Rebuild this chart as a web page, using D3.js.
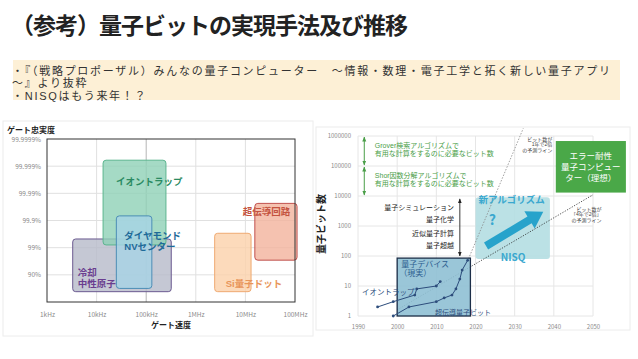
<!DOCTYPE html>
<html lang="ja">
<head>
<meta charset="UTF-8">
<title>量子ビットの実現手法及び推移</title>
<script src="https://d3js.org/d3.v7.min.js"></script>
<style>
body { margin: 0; background: #fff; }
svg { display: block; }
text { font-family: 'Noto Sans CJK JP', 'Noto Sans', sans-serif; }
text.ml { font-family: 'Liberation Sans', 'Noto Sans CJK JP', sans-serif; }
.tick text { fill: #8a8a8a; }
.tick line { stroke: #e2e2e2; }
.domain { display: none; }
</style>
</head>
<body>
<svg id="chart" width="638" height="359"></svg>
<script>
// ---- text ----
const titleText = "（参考）量子ビットの実現手法及び推移";
const noteLines = [
  "・『（戦略プロポーザル）みんなの量子コンピューター　～情報・数理・電子工学と拓く新しい量子アプリ",
  "～』より抜粋",
  "・NISQはもう来年！？"
];

// ---- left chart: gate speed vs fidelity ----
const speedTicks = [1e3, 1e4, 1e5, 1e6, 1e7, 1e8];
const speedLabels = ["1kHz", "10kHz", "100kHz", "1MHz", "10MHz", "100MHz"];
const nineTicks = [1, 2, 3, 4, 5, 6];   // number of nines
const fidelityLabels = ["90%", "99%", "99.9%", "99.99%", "99.999%", "99.9999%"];
const platforms = ["冷却中性原子", "イオントラップ", "ダイヤモンドNVセンター", "Si量子ドット", "超伝導回路"];
const platformLines = [["冷却", "中性原子"], ["イオントラップ"], ["ダイヤモンド", "NVセンター"], ["Si量子ドット"], ["超伝導回路"]];
const speedLow  = [3.3e3, 1.35e4, 2.5e4, 2.4e6, 1.55e7];
const speedHigh = [3.2e5, 2.5e5, 1.3e5, 1.3e7, 1.1e8];
const ninesLow  = [0.38, 2.1, 0.5, 0.38, 1.54];
const ninesHigh = [2.32, 5.22, 3.17, 2.53, 3.63];

// ---- right chart: qubit count over years ----
const yearTicks = [1990, 2000, 2010, 2020, 2030, 2040, 2050];
const qubitTicks = [1, 10, 100, 1000, 10000, 100000, 1000000];
const ionYears  = [1995, 1999, 2004.5, 2005, 2010, 2011];
const ionQubits = [2, 3, 5, 8, 10, 14];
const scYears  = [1999, 2003, 2010, 2012, 2014, 2015, 2016, 2016.6, 2018];
const scQubits = [1, 2, 3, 4, 5, 8, 17, 34, 72];
const appNames  = ["量子シミュレーション", "量子化学", "近似量子計算", "量子超越"];
const appQubits = [3300, 1350, 480, 185];
const trendYears = [[2000, 2050], [2018.2, 2032.2]];
const trendQubits = [[1.6, 11000], [80, 1.8e6]];
const trendNotes = [["ビット数が", "「4年で2倍」", "の予測ライン"], ["ビット数が", "1年で2倍", "の予測ライン"]];

const svg = d3.select("#chart");

// multi-line text helper: one <text>, one <tspan> per line
function multiText(g, lines, x, y, lh) {
  const t = g.append("text").attr("class", "ml").attr("x", x).attr("y", y);
  lines.forEach((ln, j) => {
    t.append("tspan").attr("x", x).attr("dy", j === 0 ? 0 : lh).text(ln);
  });
  return t;
}

// marker defs
const defs = svg.append("defs");
function addMarker(id, color) {
  defs.append("marker")
    .attr("id", id).attr("viewBox", "0 0 10 10")
    .attr("refX", 9).attr("refY", 5)
    .attr("markerWidth", 5).attr("markerHeight", 5)
    .attr("orient", "auto-start-reverse")
    .append("path").attr("d", "M0,1 L10,5 L0,9 Z").attr("fill", color);
}
addMarker("gArrow", "#4a9e48");
addMarker("kArrow", "#222");

// ---- title and note ----
svg.append("text")
  .attr("x", 11).attr("y", 34)
  .attr("font-size", 23).attr("font-weight", 700).attr("fill", "#222")
  .attr("textLength", 397).attr("lengthAdjust", "spacing")
  .text(titleText);

svg.append("rect")
  .attr("x", 13).attr("y", 60).attr("width", 607).attr("height", 40)
  .attr("fill", "#fdf0d6");

const note = multiText(svg, noteLines, 12, 75, 12.3)
  .attr("font-size", 11).attr("fill", "#333");
// stretch spacing so the first line spans the box like the reference
const firstLine = note.select("tspan").node();
const ls = (598 - firstLine.getComputedTextLength()) / (noteLines[0].length - 1);
note.attr("letter-spacing", Math.max(0, ls));

// ================= LEFT CHART =================
svg.append("rect")
  .attr("x", 3).attr("y", 121).attr("width", 310).attr("height", 215)
  .attr("fill", "#fff").attr("stroke", "#ececec");

const lx = d3.scaleLog().domain([1e3, 1e8]).range([47, 295]);
const ly = d3.scaleLinear().domain([0, 6]).range([302, 139]);

const left = svg.append("g");

// grid
left.append("g").selectAll("line").data(speedTicks.slice(1, -1)).enter().append("line")
  .attr("x1", d => lx(d)).attr("x2", d => lx(d))
  .attr("y1", ly(6)).attr("y2", ly(0))
  .attr("stroke", d => d === 1e5 ? "#b5b5b5" : "#e0e0e0");
left.append("g").selectAll("line").data(nineTicks.slice(0, -1)).enter().append("line")
  .attr("x1", lx(1e3)).attr("x2", lx(1e8))
  .attr("y1", d => ly(d)).attr("y2", d => ly(d))
  .attr("stroke", "#e0e0e0");

// axes labels
left.append("g")
  .attr("transform", `translate(${lx(1e3) - 3},0)`)
  .call(d3.axisLeft(ly).tickValues(nineTicks).tickSize(0)
    .tickFormat((d, i) => fidelityLabels[i]))
  .selectAll("text").attr("font-size", 6.5);
left.append("g")
  .attr("transform", `translate(0,${ly(0) + 7})`)
  .call(d3.axisBottom(lx).tickValues(speedTicks).tickSize(0)
    .tickFormat((d, i) => speedLabels[i]))
  .selectAll("text").attr("font-size", 6.5);

// boxes
const boxColors = [
  { fill: "#b7bac9", stroke: "#6b5a90", text: "#6a3d8f" },
  { fill: "#8fd1b7", stroke: "#5cb58f", text: "#2a8a62" },
  { fill: "#a6d3e5", stroke: "#4b8db6", text: "#1d6a98" },
  { fill: "#fbd1aa", stroke: "#efaa72", text: "#e8955a" },
  { fill: "#f3b39c", stroke: "#c0504d", text: "#c4533f" }
];
const drawOrder = [0, 1, 2, 3, 4];
const labelOffset = [
  { dx: 5, dy: 37, lh: 11 },
  { dx: 13, dy: 25, lh: 11 },
  { dx: 8, dy: 23.6, lh: 11 },
  { dx: 11, dy: 53.7, lh: 11 },
  { dx: -12, dy: 12, lh: 11 }
];

left.append("g").selectAll("rect").data(drawOrder).enter().append("rect")
  .attr("x", i => lx(speedLow[i]))
  .attr("y", i => ly(ninesHigh[i]))
  .attr("width", i => lx(speedHigh[i]) - lx(speedLow[i]))
  .attr("height", i => ly(ninesLow[i]) - ly(ninesHigh[i]))
  .attr("rx", 3)
  .attr("fill", i => boxColors[i].fill).attr("fill-opacity", 0.8)
  .attr("stroke", i => boxColors[i].stroke).attr("stroke-width", 1);

// frame
left.append("rect")
  .attr("x", lx(1e3)).attr("y", ly(6))
  .attr("width", lx(1e8) - lx(1e3)).attr("height", ly(0) - ly(6))
  .attr("fill", "none").attr("stroke", "#333").attr("stroke-width", 1);

platforms.forEach((name, i) => {
  const o = labelOffset[i];
  multiText(left, platformLines[i], lx(speedLow[i]) + o.dx, ly(ninesHigh[i]) + o.dy, o.lh)
    .attr("font-size", 9.5).attr("font-weight", 700)
    .attr("fill", boxColors[i].text);
});

left.append("text").attr("x", 7).attr("y", 133)
  .attr("font-size", 8).attr("font-weight", 700).attr("fill", "#222")
  .text("ゲート忠実度");
left.append("text").attr("x", 171).attr("y", 328)
  .attr("text-anchor", "middle")
  .attr("font-size", 8).attr("font-weight", 700).attr("fill", "#222")
  .text("ゲート速度");

// ================= RIGHT CHART =================
svg.append("rect")
  .attr("x", 316).attr("y", 127).attr("width", 314).attr("height", 203)
  .attr("fill", "#fff").attr("stroke", "#ececec");

const rx = d3.scaleLinear().domain([1990, 2050]).range([358, 593]);
const ry = d3.scaleLog().domain([1, 1e6]).range([316, 136]);

const right = svg.append("g");

right.append("g").selectAll("line").data(yearTicks).enter().append("line")
  .attr("x1", d => rx(d)).attr("x2", d => rx(d))
  .attr("y1", ry(1e6)).attr("y2", ry(1))
  .attr("stroke", "#e6e6e6");
right.append("g").selectAll("line").data(qubitTicks).enter().append("line")
  .attr("x1", rx(1990)).attr("x2", rx(2050))
  .attr("y1", d => ry(d)).attr("y2", d => ry(d))
  .attr("stroke", "#e6e6e6");

right.append("g")
  .attr("transform", `translate(${rx(1990) - 4},0)`)
  .call(d3.axisLeft(ry).tickValues(qubitTicks).tickSize(0).tickFormat(d3.format("d")))
  .selectAll("text").attr("font-size", 6);
right.append("g")
  .attr("transform", `translate(0,${ry(1) + 6})`)
  .call(d3.axisBottom(rx).tickValues(yearTicks).tickSize(0).tickFormat(d3.format("d")))
  .selectAll("text").attr("font-size", 6);

right.append("text")
  .attr("transform", "translate(325,224) rotate(-90)")
  .attr("text-anchor", "middle")
  .attr("font-size", 10).attr("font-weight", 700).attr("fill", "#222")
  .text("量子ビット数");

// green requirement arrows and notes
const reqRanges = [[1e6, 1e5], [1e5, 1e4]];
const reqNotes = [["Grover検索アルゴリズムで", "有用な計算をするのに必要なビット数"],
                  ["Shor因数分解アルゴリズムで", "有用な計算をするのに必要なビット数"]];
reqRanges.forEach((r, i) => {
  right.append("line")
    .attr("x1", rx(1991.6)).attr("x2", rx(1991.6))
    .attr("y1", ry(r[0]) + 1).attr("y2", ry(r[1]) - 1)
    .attr("stroke", "#4a9e48").attr("stroke-width", 1)
    .attr("marker-start", "url(#gArrow)").attr("marker-end", "url(#gArrow)");
  multiText(right, reqNotes[i], rx(1994.3), ry(r[0]) + 11.6, 8.3)
    .attr("font-size", 7).attr("fill", "#4a9e48");
});

// NISQ region
right.append("rect")
  .attr("x", rx(2020)).attr("y", ry(9000))
  .attr("width", rx(2039) - rx(2020)).attr("height", ry(80) - ry(9000))
  .attr("rx", 3).attr("fill", "#b4dee2").attr("fill-opacity", 0.9);

// trend lines
right.append("line")
  .attr("x1", rx(trendYears[0][0])).attr("y1", ry(trendQubits[0][0]))
  .attr("x2", rx(trendYears[0][1])).attr("y2", ry(trendQubits[0][1]))
  .attr("stroke", "#222").attr("stroke-width", 0.8).attr("stroke-dasharray", "1.2,1.5");
right.append("line")
  .attr("x1", rx(trendYears[1][0])).attr("y1", ry(trendQubits[1][0]))
  .attr("x2", rx(trendYears[1][1])).attr("y2", ry(trendQubits[1][1]))
  .attr("stroke", "#888").attr("stroke-width", 0.8).attr("stroke-dasharray", "1.5,1.5");

// trend notes
const noteAnchor = [{ x: 2052.2, y: 210.5 }, { x: 2039.6, y: 140.5 }];
trendNotes.forEach((lines, i) => {
  multiText(right, lines, rx(noteAnchor[i].x), noteAnchor[i].y, 5.8)
    .attr("text-anchor", "end")
    .attr("font-size", 5).attr("fill", "#444");
});

// big arrow
function arrowPath(x1, y1, x2, y2, sw, hw, hl) {
  const dx = x2 - x1, dy = y2 - y1, len = Math.hypot(dx, dy);
  const ux = dx / len, uy = dy / len, nx = -uy, ny = ux;
  const bx = x2 - ux * hl, by = y2 - uy * hl;
  const p = [
    [x1 + nx * sw / 2, y1 + ny * sw / 2],
    [bx + nx * sw / 2, by + ny * sw / 2],
    [bx + nx * hw / 2, by + ny * hw / 2],
    [x2, y2],
    [bx - nx * hw / 2, by - ny * hw / 2],
    [bx - nx * sw / 2, by - ny * sw / 2],
    [x1 - nx * sw / 2, y1 - ny * sw / 2]
  ];
  return "M" + p.map(q => q.join(",")).join("L") + "Z";
}
right.append("path")
  .attr("d", arrowPath(rx(2022.7), ry(215), rx(2037.3), ry(3000), 8, 20, 16))
  .attr("fill", "#27a3cb");

right.append("text")
  .attr("x", rx(2029.2)).attr("y", ry(9000) + 6)
  .attr("text-anchor", "middle")
  .attr("font-size", 9.5).attr("font-weight", 700).attr("fill", "#3aa8cf")
  .text("新アルゴリズム");
right.append("text")
  .attr("x", rx(2024.3)).attr("y", 225)
  .attr("text-anchor", "middle")
  .attr("font-size", 14).attr("font-weight", 700).attr("fill", "#3aa8cf")
  .text("?");
right.append("text")
  .attr("x", rx(2029.6)).attr("y", ry(80) + 2)
  .attr("text-anchor", "middle")
  .attr("font-size", 10).attr("font-weight", 700).attr("fill", "#3aa8cf")
  .text("NISQ");

// fault tolerant box
right.append("rect")
  .attr("x", rx(2040.5)).attr("y", ry(680000))
  .attr("width", rx(2058.4) - rx(2040.5)).attr("height", ry(13000) - ry(680000))
  .attr("fill", "#4aa848");
multiText(right, ["エラー耐性", "量子コンピュー", "ター（理想）"], rx(2049.4), ry(680000) + 18, 10.8)
  .attr("text-anchor", "middle")
  .attr("font-size", 8.5).attr("fill", "#fff");

// application list with arrow
right.append("line")
  .attr("x1", rx(2016)).attr("x2", rx(2016))
  .attr("y1", ry(8000)).attr("y2", ry(100))
  .attr("stroke", "#222").attr("stroke-width", 0.9)
  .attr("marker-start", "url(#kArrow)").attr("marker-end", "url(#kArrow)");
right.selectAll(".app").data(appNames).enter().append("text")
  .attr("class", "app")
  .attr("x", rx(2014.5)).attr("y", (d, i) => ry(appQubits[i]))
  .attr("text-anchor", "end")
  .attr("font-size", 7).attr("fill", "#222")
  .text(d => d);

// device box
right.append("rect")
  .attr("x", rx(2000)).attr("y", ry(85))
  .attr("width", rx(2018.7) - rx(2000)).attr("height", ry(1) - ry(85))
  .attr("fill", "#8fc0d4").attr("fill-opacity", 0.9)
  .attr("stroke", "#1c2e48").attr("stroke-width", 1.3);
const dev = right.append("text").attr("class", "ml")
  .attr("x", rx(2000) + 4).attr("y", ry(85) + 9)
  .attr("font-size", 8).attr("fill", "#2c5d8f");
dev.append("tspan").text("量子デバイス");
dev.append("tspan").attr("x", rx(2000) + 2).attr("dy", 9).text("（現実）");

// series lines
const line = d3.line().x(d => rx(d[0])).y(d => ry(d[1]));
const ionData = ionYears.map((y, i) => [y, ionQubits[i]]);
const scData = scYears.map((y, i) => [y, scQubits[i]]);
[ionData, scData].forEach(data => {
  right.append("path").datum(data)
    .attr("d", line).attr("fill", "none")
    .attr("stroke", "#2d4d7c").attr("stroke-width", 1);
  right.append("g").selectAll("circle").data(data).enter().append("circle")
    .attr("cx", d => rx(d[0])).attr("cy", d => ry(d[1])).attr("r", 1.4)
    .attr("fill", "#2d4d7c");
});

right.append("text")
  .attr("x", rx(1991)).attr("y", ry(6) + 2.6)
  .attr("font-size", 7.5).attr("fill", "#2d4d7c").text("イオントラップ");
right.append("text")
  .attr("x", rx(2016.8)).attr("y", ry(1.4) + 3)
  .attr("text-anchor", "middle")
  .attr("font-size", 7).attr("fill", "#2d4d7c").text("超伝導量子ビット");
</script>
</body>
</html>
